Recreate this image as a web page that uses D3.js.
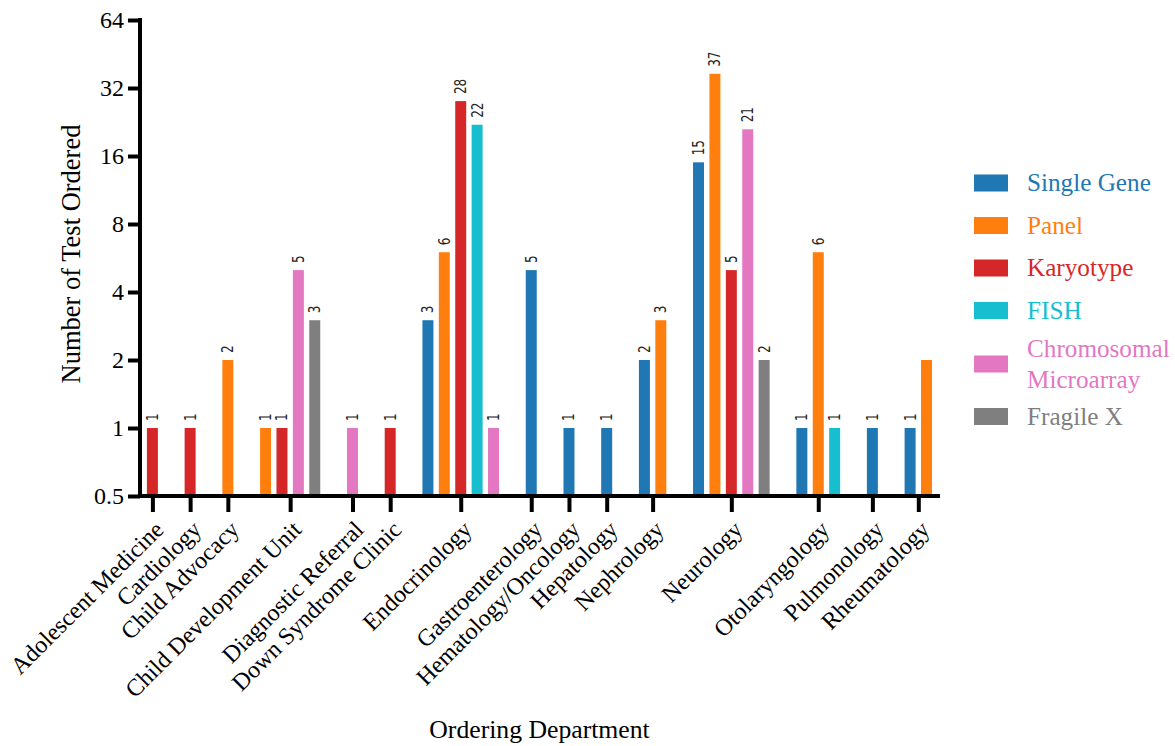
<!DOCTYPE html>
<html>
<head>
<meta charset="utf-8">
<script src="https://cdn.jsdelivr.net/npm/d3@7"></script>
<style>
  html, body { margin: 0; padding: 0; background: #fff; }
  svg { display: block; }
  .serif { font-family: "Liberation Serif", "Times New Roman", serif; }
</style>
</head>
<body>
<svg id="chart" width="1175" height="746"></svg>
<script>
// Ordering departments (x-axis categories)
const departments = [
  "Adolescent Medicine", "Cardiology", "Child Advocacy", "Child Development Unit",
  "Diagnostic Referral", "Down Syndrome Clinic", "Endocrinology", "Gastroenterology",
  "Hematology/Oncology", "Hepatology", "Nephrology", "Neurology",
  "Otolaryngology", "Pulmonology", "Rheumatology"
];

// Test types (series)
const seriesNames = ["Single Gene", "Panel", "Karyotype", "FISH", "Chromosomal Microarray", "Fragile X"];
const seriesColors = ["#1f77b4", "#ff7f0e", "#d62728", "#17becf", "#e377c2", "#7f7f7f"];

// Number of tests ordered per department (0 = none ordered)
const singleGene   = [0, 0, 0, 0, 0, 0, 3, 5, 1, 1, 2, 15, 1, 1, 1];
const panel        = [0, 0, 2, 1, 0, 0, 6, 0, 0, 0, 3, 37, 6, 0, 2];
const karyotype    = [1, 1, 0, 1, 0, 1, 28, 0, 0, 0, 0, 5, 0, 0, 0];
const fish         = [0, 0, 0, 0, 0, 0, 22, 0, 0, 0, 0, 0, 1, 0, 0];
const microarray   = [0, 0, 0, 5, 1, 0, 1, 0, 0, 0, 0, 21, 0, 0, 0];
const fragileX     = [0, 0, 0, 3, 0, 0, 0, 0, 0, 0, 0, 2, 0, 0, 0];

// Bars drawn without a value label: [department, series]
const unlabeled = [["Rheumatology", "Panel"]];

// y-axis tick values
const yTicks = [0.5, 1, 2, 4, 8, 16, 32, 64];

const seriesValues = [singleGene, panel, karyotype, fish, microarray, fragileX];

const svg = d3.select("#chart");

// Layout
const axisX = 140, axisY = 496, axisTop = 20, axisRight = 940;
const firstBar = 152.4, lastBar = 926.5;
const groupGap = 1.3;   // extra slot units between departments
const barFrac = 0.67;

// Build the list of drawn bars: only non-zero values, packed per department
const bars = [];
const groupCenters = [];
let unit = 0;
departments.forEach((dep, di) => {
  if (di > 0) unit += groupGap;
  const start = unit;
  let count = 0;
  seriesNames.forEach((s, si) => {
    const v = seriesValues[si][di];
    if (v > 0) {
      if (count > 0) unit += 1;
      bars.push({ dep, series: s, si, value: v, u: unit,
        labeled: !unlabeled.some(p => p[0] === dep && p[1] === s) });
      count++;
    }
  });
  groupCenters.push((start + unit) / 2);
  unit += 1;
});
const totalUnits = unit - 1;

const x = d3.scaleLinear().domain([0, totalUnits]).range([firstBar, lastBar]);
const step = x(1) - x(0);
const barW = step * barFrac;

const y = d3.scaleLog().base(2).domain([0.5, 64]).range([axisY, axisTop]);

// Bars
svg.append("g").selectAll("rect")
  .data(bars)
  .join("rect")
  .attr("x", d => x(d.u) - barW / 2)
  .attr("width", barW)
  .attr("y", d => y(d.value))
  .attr("height", d => axisY - y(d.value))
  .attr("fill", d => seriesColors[d.si]);

// Value labels above bars (vertical, slightly condensed)
svg.append("g").selectAll("text")
  .data(bars.filter(d => d.labeled))
  .join("text")
  .attr("transform", d => `translate(${x(d.u)},${y(d.value) - 7}) rotate(-90) scale(0.8,1)`)
  .attr("dy", "0.36em")
  .attr("text-anchor", "start")
  .attr("font-family", "'DejaVu Sans', sans-serif")
  .attr("font-size", 15)
  .attr("fill", "#222")
  .text(d => d.value);

// Y axis
const yAxis = d3.axisLeft(y)
  .tickValues(yTicks)
  .tickFormat(d3.format("~g"))
  .tickSize(12)
  .tickPadding(4);
const gy = svg.append("g")
  .attr("transform", `translate(${axisX},0)`)
  .call(yAxis);
gy.select(".domain").remove();
gy.selectAll(".tick line").attr("stroke", "#000").attr("stroke-width", 4);
gy.selectAll(".tick text")
  .attr("class", "serif")
  .attr("font-size", 24)
  .attr("fill", "#000");

// X axis (ticks at department centers)
const xCat = d3.scaleOrdinal()
  .domain(departments)
  .range(groupCenters.map(u => x(u)));
const xAxis = d3.axisBottom(xCat).tickSize(16).tickPadding(6);
const gx = svg.append("g")
  .attr("transform", `translate(0,${axisY})`)
  .call(xAxis);
gx.select(".domain").remove();
gx.selectAll(".tick line").attr("stroke", "#000").attr("stroke-width", 4);
gx.selectAll(".tick text")
  .attr("class", "serif")
  .attr("font-size", 24)
  .attr("fill", "#000")
  .attr("text-anchor", "end")
  .attr("dy", "0.3em")
  .attr("transform", "translate(7,30) rotate(-45)")
  .attr("y", 0);

// Axis lines
svg.append("line")
  .attr("x1", axisX).attr("x2", axisX)
  .attr("y1", axisTop - 2).attr("y2", axisY + 2)
  .attr("stroke", "#000").attr("stroke-width", 4);
svg.append("line")
  .attr("x1", axisX - 2).attr("x2", axisRight)
  .attr("y1", axisY).attr("y2", axisY)
  .attr("stroke", "#000").attr("stroke-width", 4);

// Axis titles
svg.append("text")
  .attr("class", "serif")
  .attr("transform", `translate(80,254) rotate(-90)`)
  .attr("text-anchor", "middle")
  .attr("font-size", 26.5)
  .text("Number of Test Ordered");
svg.append("text")
  .attr("class", "serif")
  .attr("x", 539.5).attr("y", 738)
  .attr("text-anchor", "middle")
  .attr("font-size", 25.7)
  .text("Ordering Department");

// Legend
const legendRows = [
  { name: "Single Gene", lines: ["Single Gene"], cy: 183 },
  { name: "Panel", lines: ["Panel"], cy: 225.5 },
  { name: "Karyotype", lines: ["Karyotype"], cy: 268 },
  { name: "FISH", lines: ["FISH"], cy: 310.5 },
  { name: "Chromosomal Microarray", lines: ["Chromosomal", "Microarray"], cy: 364 },
  { name: "Fragile X", lines: ["Fragile X"], cy: 416.5 }
];
const lg = svg.append("g").selectAll("g")
  .data(legendRows)
  .join("g")
  .attr("transform", d => `translate(974,${d.cy})`);
lg.append("rect")
  .attr("x", 0).attr("y", -8.5)
  .attr("width", 34).attr("height", 17)
  .attr("fill", d => seriesColors[seriesNames.indexOf(d.name)]);
lg.each(function(d) {
  const t = d3.select(this).append("text")
    .attr("class", "serif")
    .attr("font-size", 25.2)
    .attr("fill", seriesColors[seriesNames.indexOf(d.name)]);
  d.lines.forEach((line, i) => {
    t.append("tspan")
      .attr("x", 53)
      .attr("y", (i - (d.lines.length - 1) / 2) * 31)
      .attr("dy", "0.33em")
      .text(line);
  });
});
</script>
</body>
</html>
